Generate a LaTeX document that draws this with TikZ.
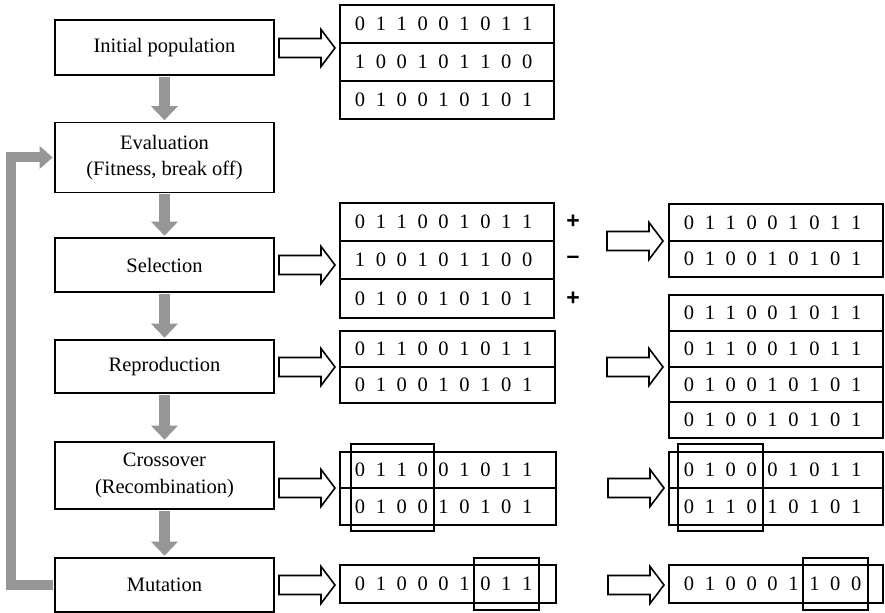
\documentclass[tikz,border=0pt]{standalone}
\usepackage{fontspec}
\setmainfont{Liberation Serif}
\newfontfamily\sgnfont{Liberation Sans}
\usetikzlibrary{arrows.meta,calc}
\definecolor{arrgray}{RGB}{150,150,150}
\newcommand\bitrow[4]{%
  \foreach \d [count=\i from 0] in {#3} {\node[digit] (#4-\i) at ({#1+20+20.9*\i},#2) {\d};}}
\tikzset{
  txt/.style={font=\fontsize{20.5bp}{26.5bp}\selectfont},
  stepbox/.style={txt, draw, line width=1.6bp, minimum width=219bp, inner sep=0pt, align=center},
  digit/.style={txt, inner sep=0pt, text height=13.8bp, text depth=0pt},
  sgn/.style={font=\fontsize{23bp}{25bp}\sgnfont\bfseries, inner sep=0pt},
  tline/.style={line width=1.7bp},
  ovl/.style={line width=1.5bp},
  blk/.style={line width=1.6bp, line join=miter},
  downarr/.style={draw=arrgray, line width=11bp, -{Triangle[width=26bp,length=14bp]}, shorten >=1.5bp, shorten <=0.8bp},
  fbarr/.style={draw=arrgray, line width=10bp, line join=miter, -{Triangle[width=22bp,length=13bp]}, shorten >=1.5bp, shorten <=0.8bp},
  blockarrow/.pic={\draw[blk] (0,-9.5) -- (42,-9.5) -- (42,-18.5) -- (56,0) -- (42,18.5) -- (42,9.5) -- (0,9.5) -- cycle;}
}
\begin{document}
\begin{tikzpicture}[x=1bp,y=-1bp]
\useasboundingbox (0,0) rectangle (885,613);
% left column
\node[stepbox, minimum height=55bp] (init) at (164.5,47.5) {Initial population};
\node[stepbox, minimum height=70bp] (eval) at (164.5,157.5) {Evaluation\\(Fitness, break off)};
\node[stepbox, minimum height=54bp] (sel) at (164.5,265) {Selection};
\node[stepbox, minimum height=53bp] (rep) at (164.5,366.5) {Reproduction};
\node[stepbox, minimum height=67bp] (cross) at (164.5,475.5) {Crossover\\(Recombination)};
\node[stepbox, minimum height=54bp] (mut) at (164.5,585) {Mutation};
\draw[downarr] (init.south) -- (eval.north);
\draw[downarr] (eval.south) -- (sel.north);
\draw[downarr] (sel.south) -- (rep.north);
\draw[downarr] (rep.south) -- (cross.north);
\draw[downarr] (cross.south) -- (mut.north);
\draw[fbarr] (mut.west) -- ++(-43,0) |- (eval.west);
% block arrows
\pic at (279,48) {blockarrow};
\pic at (279,265) {blockarrow};
\pic at (607,241) {blockarrow};
\pic at (279,367) {blockarrow};
\pic at (607,367) {blockarrow};
\pic at (279,488) {blockarrow};
\pic at (608,488) {blockarrow};
\pic at (279,585) {blockarrow};
\pic at (608,585) {blockarrow};
% table 1
\draw[tline] (340,5) rectangle (554,119);
\draw[tline] (340,43) -- (554,43) (340,81) -- (554,81);
\bitrow{340}{24}{0,1,1,0,0,1,0,1,1}{ta}
\bitrow{340}{62}{1,0,0,1,0,1,1,0,0}{tb}
\bitrow{340}{100}{0,1,0,0,1,0,1,0,1}{tc}
% selection table
\draw[tline] (340,203) rectangle (554,318);
\draw[tline] (340,241) -- (554,241) (340,279) -- (554,279);
\bitrow{340}{222}{0,1,1,0,0,1,0,1,1}{sa}
\bitrow{340}{260}{1,0,0,1,0,1,1,0,0}{sb}
\bitrow{340}{298.5}{0,1,0,0,1,0,1,0,1}{sc}
\node[sgn] (p1) at (573,222) {+};
\node[sgn] (m1) at (573,260) {–};
\node[sgn] (p2) at (573,298.5) {+};
% selection result
\draw[tline] (669,204) rectangle (883,277);
\draw[tline] (669,241) -- (883,241);
\bitrow{669}{222.5}{0,1,1,0,0,1,0,1,1}{ra}
\bitrow{669}{259}{0,1,0,0,1,0,1,0,1}{rb}
% reproduction table
\draw[tline] (340,331) rectangle (555,403);
\draw[tline] (340,367) -- (555,367);
\bitrow{340}{349}{0,1,1,0,0,1,0,1,1}{pa}
\bitrow{340}{385}{0,1,0,0,1,0,1,0,1}{pb}
% reproduction result
\draw[tline] (669,295) rectangle (883,438);
\draw[tline] (669,331) -- (883,331) (669,367) -- (883,367) (669,402) -- (883,402);
\bitrow{669}{313}{0,1,1,0,0,1,0,1,1}{qa}
\bitrow{669}{349}{0,1,1,0,0,1,0,1,1}{qb}
\bitrow{669}{384.5}{0,1,0,0,1,0,1,0,1}{qc}
\bitrow{669}{420}{0,1,0,0,1,0,1,0,1}{qd}
% crossover
\draw[tline] (340,452) rectangle (556,525);
\draw[tline] (340,488) -- (556,488);
\draw[ovl] (351,444) rectangle (434,531);
\bitrow{340}{470}{0,1,1,0,0,1,0,1,1}{ca}
\bitrow{340}{506.5}{0,1,0,0,1,0,1,0,1}{cb}
\draw[tline] (669,452) rectangle (883,525);
\draw[tline] (669,488) -- (883,488);
\draw[ovl] (678,444) rectangle (763,531);
\bitrow{669}{470}{0,1,0,0,0,1,0,1,1}{da}
\bitrow{669}{506.5}{0,1,1,0,1,0,1,0,1}{db}
% mutation
\draw[tline] (340,565) rectangle (556,603);
\draw[ovl] (474,558) rectangle (539,610);
\bitrow{340}{584}{0,1,0,0,0,1,0,1,1}{ma}
\draw[tline] (669,565) rectangle (883,603);
\draw[ovl] (803,558) rectangle (868,610);
\bitrow{669}{584}{0,1,0,0,0,1,1,0,0}{mb}
\end{tikzpicture}
\end{document}
